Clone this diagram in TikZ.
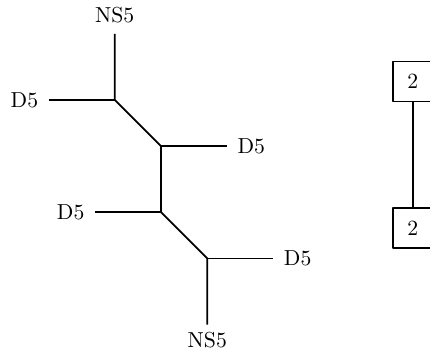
\documentclass[tikz,border=0pt]{standalone}
\usetikzlibrary{positioning,calc}

\begin{document}
\begin{tikzpicture}[thick, line join=round,
    brane/.style={inner sep=4.5pt},
    gauge/.style={rectangle, draw=black, minimum size=18.4pt}]
  \useasboundingbox (0,0) rectangle (6.97,5.69);

  % vertices of the web
  \coordinate (a) at (1.86,4.07);
  \coordinate (b) at ($(a)+(0.75,-0.75)$);
  \coordinate (c) at ($(b)+(0,-1.07)$);
  \coordinate (d) at ($(c)+(0.75,-0.75)$);

  \node[brane, anchor=south] (ns5top) at ($(a)+(0,1.07)$) {NS5};
  \node[brane, anchor=north, inner sep=3.3pt] (ns5bot) at ($(d)+(0,-1.07)$) {NS5};
  \node[brane, anchor=east] (d5a) at ($(a)+(-1.07,0)$) {D5};
  \node[brane, anchor=west] (d5b) at ($(b)+(1.07,0)$) {D5};
  \node[brane, anchor=east] (d5c) at ($(c)+(-1.07,0)$) {D5};
  \node[brane, anchor=west] (d5d) at ($(d)+(1.07,0)$) {D5};

  \draw (ns5top) -- (a) -- (b) -- (c) -- (d) -- (ns5bot);
  \draw (d5a) -- (a);
  \draw (b) -- (d5b);
  \draw (d5c) -- (c);
  \draw (d) -- (d5d);

  % quiver
  \node[gauge] (up) at (6.69,4.37) {2};
  \node[gauge, below=1.70cm of up] (down) {2};
  \draw (up) -- (down);
\end{tikzpicture}
\end{document}
